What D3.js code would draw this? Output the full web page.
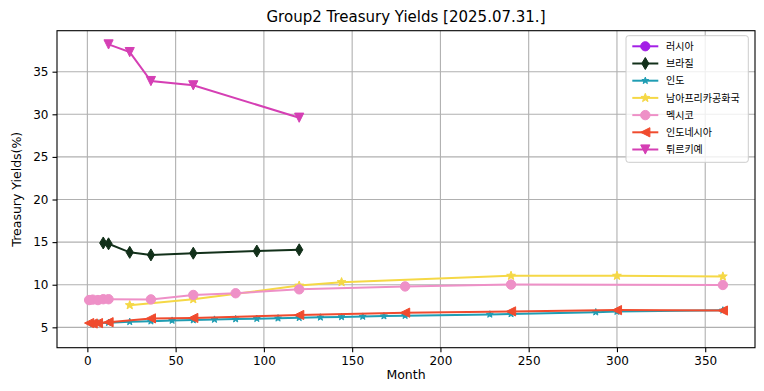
<!DOCTYPE html>
<html><head><meta charset="utf-8">
<script src="https://cdn.jsdelivr.net/npm/d3@7"></script>
<style>body{margin:0;background:#fff;} svg{display:block;}</style>
</head><body>
<svg id="chart" width="764" height="391"></svg>
<script>
// ---- data ----
const seriesNames = ["러시아", "브라질", "인도", "남아프리카공화국", "멕시코", "인도네시아", "튀르키예"];
const russiaMonths = [];
const russiaYields = [];
const brazilMonths = [9, 12, 24, 36, 60, 96, 120];
const brazilYields = [14.9, 14.8, 13.8, 13.5, 13.7, 13.95, 14.1];
const indiaMonths = [3, 6, 12, 24, 36, 48, 60, 72, 84, 96, 108, 120, 132, 144, 156, 168, 180, 228, 240, 288, 300, 360];
const indiaYields = [5.45, 5.5, 5.55, 5.65, 5.72, 5.8, 5.85, 5.92, 5.97, 6.02, 6.07, 6.12, 6.17, 6.22, 6.27, 6.32, 6.37, 6.52, 6.57, 6.78, 6.85, 7.0];
const safricaMonths = [24, 60, 120, 144, 240, 300, 360];
const safricaYields = [7.6, 8.3, 9.9, 10.3, 11.05, 11.05, 10.97];
const mexicoMonths = [1, 3, 6, 9, 12, 36, 60, 84, 120, 180, 240, 360];
const mexicoYields = [8.2, 8.25, 8.2, 8.3, 8.3, 8.28, 8.8, 9.0, 9.46, 9.8, 10.02, 9.97];
const indonesiaMonths = [1, 3, 6, 12, 36, 60, 120, 180, 240, 300, 360];
const indonesiaYields = [5.5, 5.45, 5.5, 5.6, 6.05, 6.1, 6.45, 6.72, 6.87, 7.02, 6.97];
const turkeyMonths = [12, 24, 36, 60, 120];
const turkeyYields = [38.2, 37.3, 33.9, 33.4, 29.6];
const xTicks = [0, 50, 100, 150, 200, 250, 300, 350];
const yTicks = [5, 10, 15, 20, 25, 30, 35];
const title = "Group2 Treasury Yields [2025.07.31.]";
const xLabel = "Month";
const yLabel = "Treasury Yields(%)";

const colors = ["#a31fe6", "#12301a", "#1f9db3", "#f5d846", "#ee90c7", "#f04b2e", "#d53fb4"];
const markers = ["circle", "diamond", "star", "star", "circle", "tleft", "tdown"];
const markerR = [4.6, 6.0, 3.6, 4.6, 4.7, 4.6, 4.6];

const series = [
  [russiaMonths, russiaYields], [brazilMonths, brazilYields], [indiaMonths, indiaYields],
  [safricaMonths, safricaYields], [mexicoMonths, mexicoYields], [indonesiaMonths, indonesiaYields],
  [turkeyMonths, turkeyYields]
].map((s, i) => ({name: seriesNames[i], color: colors[i], marker: markers[i], r: markerR[i],
  pts: s[0].map((m, j) => ({x: m, y: s[1][j]}))}));

// ---- layout ----
const svg = d3.select("#chart");
const L = 57, R = 755, T = 30.7, B = 347.7;
const x = d3.scaleLinear().domain([-17.2, 378.2]).range([L, R]);
const y = d3.scaleLinear().domain([2.61, 39.81]).range([B, T]);

function markerPath(type, r) {
  const p = d3.path();
  if (type === "circle") { p.arc(0, 0, r, 0, 2 * Math.PI); }
  else if (type === "diamond") { p.moveTo(0, -r); p.lineTo(0.6 * r, 0); p.lineTo(0, r); p.lineTo(-0.6 * r, 0); p.closePath(); }
  else if (type === "star") {
    for (let k = 0; k < 10; k++) {
      const rr = k % 2 === 0 ? r : r * 0.42;
      const a = -Math.PI / 2 + k * Math.PI / 5;
      const px = rr * Math.cos(a), py = rr * Math.sin(a);
      if (k === 0) p.moveTo(px, py); else p.lineTo(px, py);
    }
    p.closePath();
  }
  else if (type === "tdown") { p.moveTo(0, r); p.lineTo(r, -r); p.lineTo(-r, -r); p.closePath(); }
  else if (type === "tleft") { p.moveTo(-r, 0); p.lineTo(r, -r); p.lineTo(r, r); p.closePath(); }
  return p.toString();
}

// grid
const g = svg.append("g");
g.selectAll(".gx").data(xTicks).enter().append("line")
  .attr("x1", d => x(d)).attr("x2", d => x(d)).attr("y1", T).attr("y2", B)
  .attr("stroke", "#b0b0b0").attr("stroke-width", 1.1);
g.selectAll(".gy").data(yTicks).enter().append("line")
  .attr("x1", L).attr("x2", R).attr("y1", d => y(d)).attr("y2", d => y(d))
  .attr("stroke", "#b0b0b0").attr("stroke-width", 1.1);

// axes
const xAxis = d3.axisBottom(x).tickValues(xTicks).tickSize(4.5).tickPadding(4).tickSizeOuter(0);
const yAxis = d3.axisLeft(y).tickValues(yTicks).tickSize(4.5).tickPadding(4).tickSizeOuter(0);
const gx = svg.append("g").attr("transform", `translate(0,${B})`).call(xAxis);
const gy = svg.append("g").attr("transform", `translate(${L},0)`).call(yAxis);
[gx, gy].forEach(a => {
  a.select(".domain").remove();
  a.selectAll("text").attr("font-family", "DejaVu Sans").attr("font-size", 12).attr("fill", "#000");
  a.selectAll("line").attr("stroke", "#000").attr("stroke-width", 1.1);
});

// lines and markers
const line = d3.line().x(d => x(d.x)).y(d => y(d.y));
series.forEach(s => {
  if (!s.pts.length) return;
  svg.append("path").attr("d", line(s.pts)).attr("fill", "none")
    .attr("stroke", s.color).attr("stroke-width", 2);
  svg.selectAll(null).data(s.pts).enter().append("path")
    .attr("transform", d => `translate(${x(d.x)},${y(d.y)})`)
    .attr("d", markerPath(s.marker, s.r)).attr("fill", s.color)
    .attr("stroke", s.color).attr("stroke-width", 1);
});

// frame
svg.append("rect").attr("x", L).attr("y", T).attr("width", R - L).attr("height", B - T)
  .attr("fill", "none").attr("stroke", "#000").attr("stroke-width", 1.1);

// labels
svg.append("text").attr("x", (L + R) / 2).attr("y", 22).attr("text-anchor", "middle")
  .attr("font-family", "DejaVu Sans").attr("font-size", 15).text(title);
svg.append("text").attr("x", (L + R) / 2).attr("y", 379).attr("text-anchor", "middle")
  .attr("font-family", "DejaVu Sans").attr("font-size", 12.5).text(xLabel);
svg.append("text").attr("transform", `translate(21,${(T + B) / 2}) rotate(-90)`).attr("text-anchor", "middle")
  .attr("font-family", "DejaVu Sans").attr("font-size", 12.5).text(yLabel);

// legend
const lg = svg.append("g");
lg.append("rect").attr("x", 626).attr("y", 35.7).attr("width", 122.3).attr("height", 126.6)
  .attr("rx", 2.5).attr("fill", "#fff").attr("fill-opacity", 0.8).attr("stroke", "#cccccc").attr("stroke-width", 1);
series.forEach((s, i) => {
  const cy = 46.3 + i * 17.2;
  lg.append("line").attr("x1", 632.3).attr("x2", 658.3).attr("y1", cy).attr("y2", cy)
    .attr("stroke", s.color).attr("stroke-width", 2);
  lg.append("path").attr("transform", `translate(645.3,${cy})`).attr("d", markerPath(s.marker, s.r))
    .attr("fill", s.color).attr("stroke", s.color).attr("stroke-width", 1);
  lg.append("text").attr("x", 666).attr("y", cy + 3.6).attr("font-family", "Noto Sans CJK KR")
    .attr("font-size", 10).text(s.name);
});
</script>
</body></html>
